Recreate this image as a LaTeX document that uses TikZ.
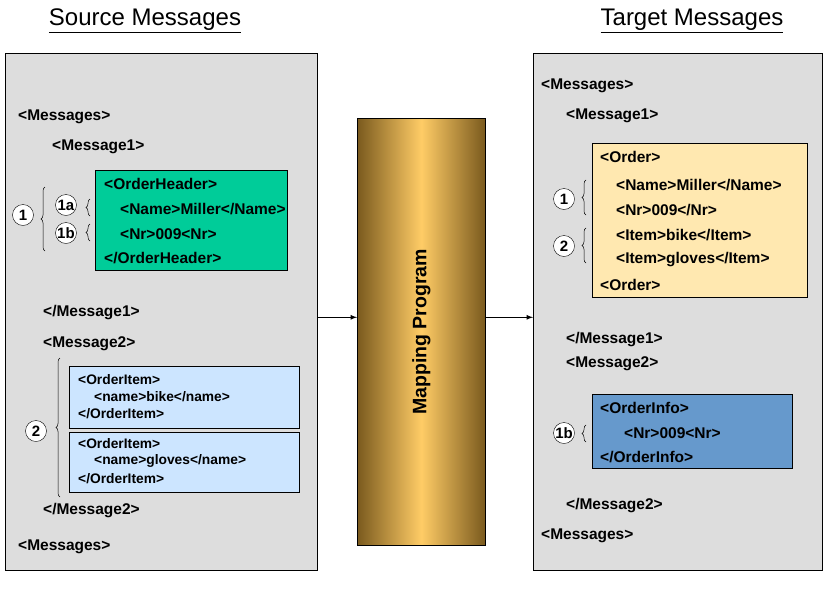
\documentclass[tikz,border=0pt]{standalone}
\usepackage{fontspec}
\setmainfont{Liberation Sans}
\usetikzlibrary{decorations.pathreplacing}
\definecolor{panel}{HTML}{DDDDDD}
\definecolor{green1}{HTML}{00CC99}
\definecolor{lblue}{HTML}{CCE5FF}
\definecolor{yel}{HTML}{FFE8B0}
\definecolor{dblue}{HTML}{6699CC}
\definecolor{brn}{HTML}{7A5A1E}
\definecolor{gold}{HTML}{FFCC66}
\begin{document}
\begin{tikzpicture}[x=1pt,y=-1pt,
  t/.style={anchor=west,inner sep=0pt,font=\bfseries\fontsize{15.5}{17}\selectfont},
  ts/.style={anchor=west,inner sep=0pt,font=\bfseries\fontsize{13.8}{15}\selectfont},
  box/.style={draw=black,line width=0.6pt},
  num/.style={circle,draw=black,fill=white,inner sep=0pt,minimum size=21pt,font=\bfseries\fontsize{15}{16}\selectfont},
  br/.style={decorate,decoration={brace,amplitude=4pt},line width=0.5pt},
  title/.style={font=\fontsize{24}{28}\selectfont,inner sep=0pt},
  arr/.style={-latex,line width=1.2pt}]
\useasboundingbox (0,0) rectangle (840,600);
\node[title] (st) at (145,21) {\underline{Source Messages}};
\node[title] (tt) at (692,21) {\underline{Target Messages}};
% panels
\node[box,fill=panel,minimum width=312pt,minimum height=517pt,anchor=north west,inner sep=0pt] (lp) at (5,53) {};
\node[box,fill=panel,minimum width=289pt,minimum height=517pt,anchor=north west,inner sep=0pt] (rp) at (533,53) {};
\node[box,left color=brn,right color=brn,middle color=gold,minimum width=128pt,minimum height=427pt,anchor=north west,inner sep=0pt] (mp) at (357,118) {};
\node[rotate=90,font=\bfseries\fontsize{19.5}{22}\selectfont] (mpt) at (mp.center) {Mapping Program};
\draw[arr] ([yshift=-5.5pt]lp.east) -- ([yshift=-5.5pt]lp.east -| mp.west);
\draw[arr] ([yshift=-5.5pt]mp.east |- lp.east) -- ([yshift=-5.5pt]rp.west);
% left
\node[t] (l1) at (18,117) {<Messages>};
\node[t] (l2) at (52,147) {<Message1>};
\node[box,fill=green1,minimum width=192pt,minimum height=100pt,anchor=north west,inner sep=0pt] (gb) at (95,170) {};
\node[t] (g1) at (104,184) {<OrderHeader>};
\node[t] (g2) at (120,209) {<Name>Miller</Name>};
\node[t] (g3) at (120,234) {<Nr>009<Nr>};
\node[t] (g4) at (104,258) {</OrderHeader>};
\node[num] (c1) at (23,215) {1};
\node[num] (c1a) at (66,205) {1a};
\node[num] (c1b) at (66,233) {1b};
\draw[br] (45,251) -- (45,187);
\draw[br] (90,216) -- (90,199);
\draw[br] (90,241) -- (90,224);
\node[t] (l3) at (43,313) {</Message1>};
\node[t] (l4) at (43,344) {<Message2>};
\node[box,fill=lblue,minimum width=230pt,minimum height=62pt,anchor=north west,inner sep=0pt] (b1) at (69,366) {};
\node[ts] (b11) at (78,380) {<OrderItem>};
\node[ts] (b12) at (94,397) {<name>bike</name>};
\node[ts] (b13) at (78,414) {</OrderItem>};
\node[box,fill=lblue,minimum width=230pt,minimum height=60pt,anchor=north west,inner sep=0pt] (b2) at (69,432) {};
\node[ts] (b21) at (78,444) {<OrderItem>};
\node[ts] (b22) at (94,461) {<name>gloves</name>};
\node[ts] (b23) at (78,479) {</OrderItem>};
\node[num] (c2) at (36,431) {2};
\draw[br] (60,497) -- (60,358);
\node[t] (l5) at (43,511) {</Message2>};
\node[t] (l6) at (18,547) {<Messages>};
% right
\node[t] (r1) at (541,86) {<Messages>};
\node[t] (r2) at (566,116) {<Message1>};
\node[box,fill=yel,minimum width=215pt,minimum height=154pt,anchor=north west,inner sep=0pt] (yb) at (592,143) {};
\node[t] (y1) at (600,157) {<Order>};
\node[t] (y2) at (616,185) {<Name>Miller</Name>};
\node[t] (y3) at (616,210) {<Nr>009</Nr>};
\node[t] (y4) at (616,235) {<Item>bike</Item>};
\node[t] (y5) at (616,260) {<Item>gloves</Item>};
\node[t] (y6) at (600,285) {<Order>};
\node[num] (rc1) at (564,199) {1};
\node[num] (rc2) at (564,246) {2};
\draw[br] (586,215) -- (586,180);
\draw[br] (586,263) -- (586,228);
\node[t] (r3) at (566,340) {</Message1>};
\node[t] (r4) at (566,364) {<Message2>};
\node[box,fill=dblue,minimum width=200pt,minimum height=74pt,anchor=north west,inner sep=0pt] (db) at (592,394) {};
\node[t] (d1) at (600,408) {<OrderInfo>};
\node[t] (d2) at (624,433) {<Nr>009<Nr>};
\node[t] (d3) at (600,457) {</OrderInfo>};
\node[num] (rc1b) at (564,433) {1b};
\draw[br] (586,442) -- (586,425);
\node[t] (r5) at (566,506) {</Message2>};
\node[t] (r6) at (541,536) {<Messages>};
\end{tikzpicture}
\end{document}
